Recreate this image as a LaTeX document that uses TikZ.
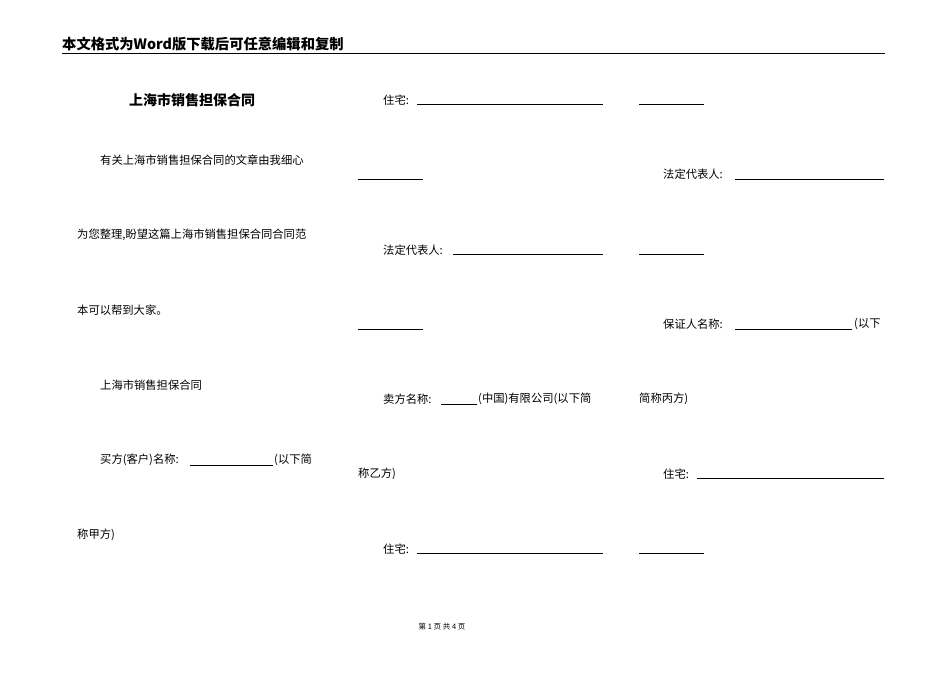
\documentclass[tikz,border=0pt]{standalone}
\usepackage{fontspec}
\setmainfont{Liberation Serif}
\newfontfamily\cjk{Noto Sans CJK SC}
\begin{document}
\begin{tikzpicture}[x=1pt,y=-1pt,
  txt/.style={anchor=west,inner sep=0pt,font=\cjk\fontsize{11.3}{13}\selectfont},
  ul/.style={line width=0.6pt}]
\useasboundingbox (0,0) rectangle (950,672);
\node[txt,font=\cjk\bfseries\fontsize{14.3}{16}\selectfont] (hd) at (62,44) {本文格式为Word版下载后可任意编辑和复制};
\draw[line width=0.8pt] (62,53) -- (885,53);
\node[anchor=center,inner sep=0pt,font=\cjk\bfseries\fontsize{14}{16}\selectfont] (ti) at (192,100) {上海市销售担保合同};
% column 1
\node[txt] (a1) at (100,160) {有关上海市销售担保合同的文章由我细心};
\node[txt] (a2) at (77,235) {为您整理,盼望这篇上海市销售担保合同合同范};
\node[txt] (a3) at (77,310) {本可以帮到大家。};
\node[txt] (a4) at (100,385) {上海市销售担保合同};
\node[txt] (a5) at (100,460) {买方(客户)名称:};
\draw[ul] (190,465) -- (273,465);
\node[txt] (a5b) at (274,460) {(以下简};
\node[txt] (a6) at (77,535) {称甲方)};
% column 2
\node[txt] (b1) at (383,100) {住宅:};
\draw[ul] (417,104) -- (603,104); \draw[ul] (639,104) -- (704,104);
\draw[ul] (358,179) -- (423,179);
\node[txt] (c1) at (663,174) {法定代表人:};
\draw[ul] (735,179) -- (884,179);
\node[txt] (b2) at (383,250) {法定代表人:};
\draw[ul] (453,254) -- (603,254); \draw[ul] (639,254) -- (704,254);
\draw[ul] (358,329) -- (423,329);
\node[txt] (c2) at (663,324) {保证人名称:};
\draw[ul] (735,329) -- (852,329);
\node[txt] (c2b) at (854,324) {(以下};
\node[txt] (b3) at (383,399) {卖方名称:};
\draw[ul] (441,404) -- (477,404);
\node[txt] (b3b) at (478,399) {(中国)有限公司(以下简};
\node[txt] (c3) at (639,399) {简称丙方)};
\node[txt] (b4) at (358,474) {称乙方)};
\node[txt] (c4) at (663,474) {住宅:};
\draw[ul] (697,478) -- (884,478);
\node[txt] (b5) at (383,549) {住宅:};
\draw[ul] (417,553) -- (603,553); \draw[ul] (639,553) -- (704,553);
\node[anchor=center,inner sep=0pt,font=\cjk\fontsize{7.5}{9}\selectfont] (ft) at (442,627) {第 1 页 共 4 页};
\end{tikzpicture}
\end{document}
